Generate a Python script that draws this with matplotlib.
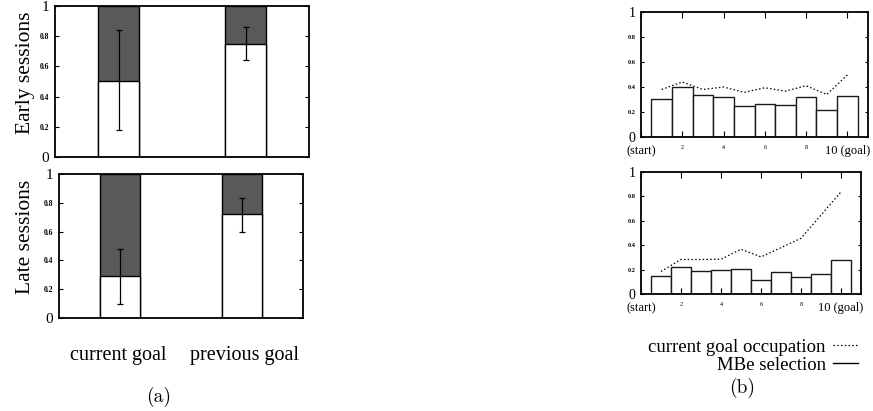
import matplotlib
matplotlib.use("Agg")
import matplotlib.pyplot as plt
from matplotlib.lines import Line2D

# (a) proportion choosing each goal
goals = ["current goal", "previous goal"]
early_mean = [0.50, 0.75]
early_lo = [0.18, 0.64]
early_hi = [0.84, 0.86]
late_mean = [0.29, 0.72]
late_lo = [0.10, 0.60]
late_hi = [0.48, 0.83]

# (b) per position along the route
positions = [1, 2, 3, 4, 5, 6, 7, 8, 9, 10]
early_mbe = [0.306, 0.397, 0.338, 0.319, 0.247, 0.260, 0.252, 0.319, 0.212, 0.327]
early_occ = [0.38, 0.44, 0.38, 0.40, 0.357, 0.394, 0.367, 0.41, 0.34, 0.496]
late_mbe = [0.144, 0.220, 0.188, 0.196, 0.209, 0.117, 0.179, 0.141, 0.166, 0.277]
late_occ = [0.185, 0.283, 0.283, 0.285, 0.367, 0.304, 0.38, 0.457, 0.647, 0.837]
pos_ticks = [0, 2, 4, 6, 8, 10]
pos_labels = ["(start)", "2", "4", "6", "8", "10 (goal)"]

serif = ["Liberation Serif", "DejaVu Serif"]
plt.rcParams["font.family"] = serif

fig = plt.figure(figsize=(8.73, 4.11), dpi=100)
W, H = 873.0, 411.0


def axes_px(x0, y0, x1, y1):
    return fig.add_axes([x0 / W, 1 - y1 / H, (x1 - x0) / W, (y1 - y0) / H])


def style_y(ax, big, small):
    ax.set_ylim(0, 1)
    ax.set_yticks([0, 0.2, 0.4, 0.6, 0.8, 1])
    ax.set_yticklabels(["0", "0.2", "0.4", "0.6", "0.8", "1"])
    for lab, v in zip(ax.get_yticklabels(), [0, 0.2, 0.4, 0.6, 0.8, 1]):
        if v in (0, 1):
            lab.set_fontsize(big)
        else:
            lab.set_fontsize(small)
            lab.set_fontweight("bold")
    ax.tick_params(axis="y", direction="in", left=True, right=True, length=3, width=0.8, pad=4)
    for s in ax.spines.values():
        s.set_linewidth(1.3)


def goal_panel(ax, mean, lo, hi, label):
    x = range(len(goals))
    ax.bar(x, [1, 1], width=0.33, color="#595959", edgecolor="black", linewidth=1.0)
    ax.bar(x, mean, width=0.33, color="white", edgecolor="black", linewidth=1.0)
    err = [[m - l for m, l in zip(mean, lo)], [h - m for m, h in zip(mean, hi)]]
    ax.errorbar(x, mean, yerr=err, fmt="none", ecolor="black", elinewidth=0.9, capsize=2, capthick=0.9)
    ax.set_xlim(-0.5, 1.5)
    ax.set_xticks([])
    style_y(ax, 11, 5.5)
    ax.set_ylabel(label, fontsize=15.5, va="center", ha="center")


ax1 = axes_px(55, 6, 309, 157)
goal_panel(ax1, early_mean, early_lo, early_hi, "Early sessions")
ax2 = axes_px(59, 174, 303, 318)
goal_panel(ax2, late_mean, late_lo, late_hi, "Late sessions")
ax1.yaxis.set_label_coords(-0.118, 0.56)
ax2.yaxis.set_label_coords(-0.139, 0.56)

fig.text(118 / W, 1 - 355 / H, goals[0], ha="center", va="center", fontsize=14.5)
fig.text(245 / W, 1 - 355 / H, goals[1], ha="center", va="center", fontsize=14.5)


def route_panel(ax, mbe, occ):
    ax.bar(positions, mbe, width=1.0, color="white", edgecolor="#1a1a1a", linewidth=1.0)
    ax.plot(positions, occ, color="black", linestyle=(0, (1.2, 1.8)), linewidth=0.9)
    ax.set_xlim(0, 11)
    ax.set_xticks(pos_ticks)
    ax.set_xticklabels(pos_labels)
    for lab, t in zip(ax.get_xticklabels(), pos_ticks):
        lab.set_fontsize(9 if t in (0, 10) else 4.5)
    ax.tick_params(axis="x", direction="in", top=True, bottom=True, length=4, width=0.8, pad=6)
    style_y(ax, 10, 4.5)
    ax.tick_params(axis="y", length=2.5)


ax3 = axes_px(641, 12, 868, 137)
route_panel(ax3, early_mbe, early_occ)
ax4 = axes_px(641, 172, 861, 294)
route_panel(ax4, late_mbe, late_occ)

# legend for (b)
fig.text(826 / W, 1 - 347 / H, "current goal occupation", ha="right", va="center", fontsize=13.5)
fig.text(826 / W, 1 - 365 / H, "MBe selection", ha="right", va="center", fontsize=13.5)
fig.add_artist(Line2D([833 / W, 858 / W], [1 - 345 / H, 1 - 345 / H], color="black",
                      linestyle=(0, (1.2, 1.8)), linewidth=0.9))
fig.add_artist(Line2D([833 / W, 858 / W], [1 - 363 / H, 1 - 363 / H], color="black", linewidth=1.0))

fig.text(159 / W, 1 - 397 / H, "(a)", ha="center", va="center", fontsize=14, family="cmr10")
fig.text(742 / W, 1 - 388 / H, "(b)", ha="center", va="center", fontsize=14, family="cmr10")

fig.savefig("out.png", dpi=100)
